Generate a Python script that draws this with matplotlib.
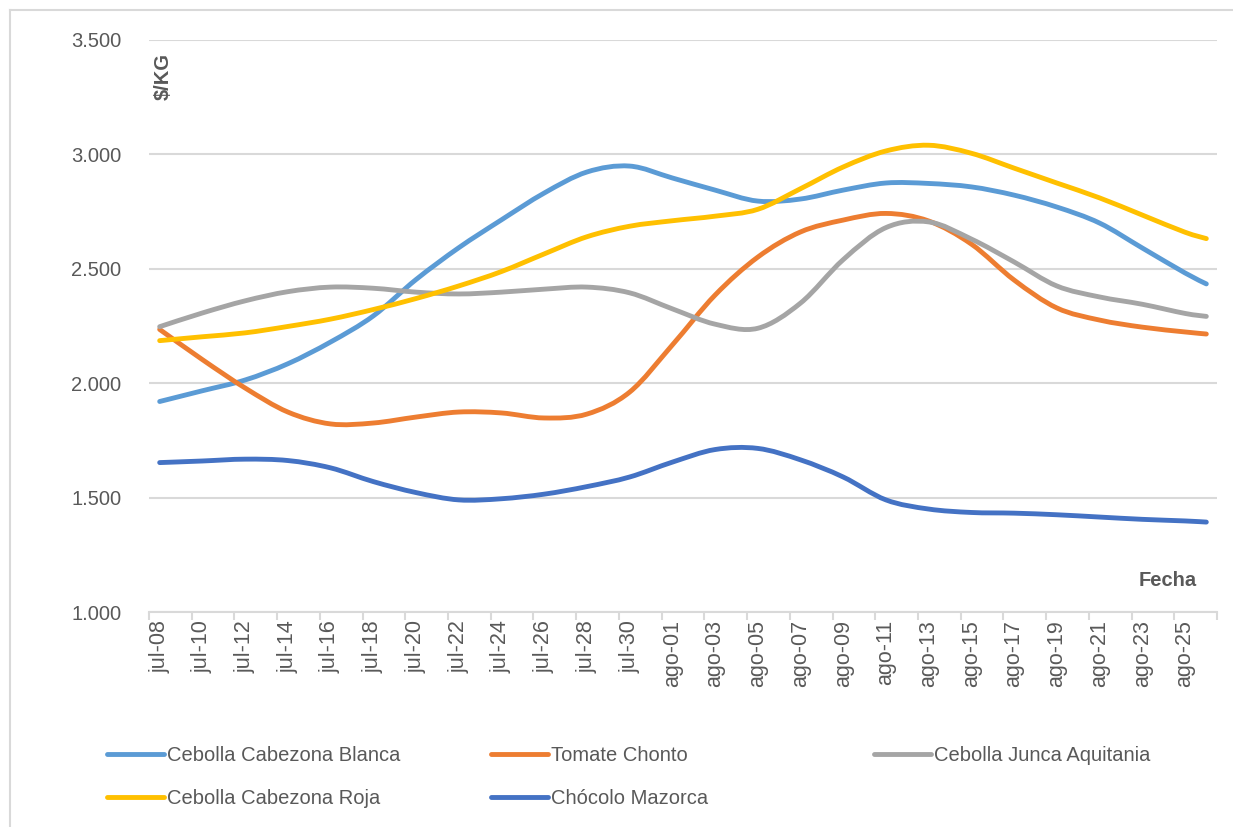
import datetime as dt
import numpy as np
import matplotlib
matplotlib.use("Agg")
import matplotlib.pyplot as plt
from matplotlib.path import Path
from matplotlib.patches import PathPatch
from matplotlib.lines import Line2D

plt.rcParams['font.family'] = ['Liberation Sans', 'DejaVu Sans']

# fechas de los puntos leidos (cada 2 dias + ultimo dia)
fechas = ['jul-08', 'jul-10', 'jul-12', 'jul-14', 'jul-16', 'jul-18', 'jul-20',
          'jul-22', 'jul-24', 'jul-26', 'jul-28', 'jul-30', 'ago-01', 'ago-03',
          'ago-05', 'ago-07', 'ago-09', 'ago-11', 'ago-13', 'ago-15', 'ago-17',
          'ago-19', 'ago-21', 'ago-23', 'ago-25', 'ago-26']
etiquetas = fechas[:-1]

cebolla_blanca = [1920, 1967, 2014, 2085, 2180, 2294, 2453, 2592, 2714, 2831, 2923, 2949, 2897,
                  2844, 2796, 2805, 2844, 2875, 2873, 2858, 2822, 2770, 2700, 2591, 2482, 2434]
tomate_chonto = [2235, 2103, 1979, 1874, 1822, 1826, 1852, 1874, 1870, 1848, 1865, 1961, 2167,
                 2385, 2551, 2661, 2713, 2742, 2709, 2608, 2451, 2329, 2276, 2245, 2224, 2215]
cebolla_junca = [2247, 2307, 2360, 2400, 2420, 2415, 2398, 2390, 2398, 2411, 2420, 2395, 2325,
                 2258, 2240, 2350, 2540, 2680, 2705, 2630, 2530, 2425, 2377, 2345, 2305, 2292]
cebolla_roja = [2186, 2203, 2220, 2248, 2280, 2322, 2370, 2425, 2488, 2565, 2640, 2686, 2710,
                2730, 2760, 2850, 2945, 3015, 3040, 3005, 2940, 2875, 2810, 2735, 2660, 2632]
chocolo = [1653, 1660, 1668, 1662, 1630, 1570, 1522, 1490, 1495, 1515, 1548, 1590, 1655,
           1710, 1715, 1665, 1590, 1490, 1450, 1435, 1432, 1425, 1415, 1405, 1398, 1393]

series = [
    ('Cebolla Cabezona Blanca', cebolla_blanca, '#5B9BD5'),
    ('Tomate Chonto', tomate_chonto, '#ED7D31'),
    ('Cebolla Junca Aquitania', cebolla_junca, '#A5A5A5'),
    ('Cebolla Cabezona Roja', cebolla_roja, '#FFC000'),
    ('Chócolo Mazorca', chocolo, '#4472C4'),
]

meses = {'jul': 7, 'ago': 8}


def a_dia(s):
    m, d = s.split('-')
    return (dt.date(2021, meses[m], int(d)) - dt.date(2021, 7, 8)).days


x = np.array([a_dia(f) for f in fechas], dtype=float)
ndias = a_dia(fechas[-1]) + 1


def curva_suave(xs, ys):
    # linea suavizada estilo Excel (Catmull-Rom como Bezier)
    p = np.column_stack([xs, ys]).astype(float)
    verts = [p[0]]
    codes = [Path.MOVETO]
    n = len(p)
    for i in range(n - 1):
        p0 = p[i - 1] if i > 0 else p[i]
        p3 = p[i + 2] if i + 2 < n else p[i + 1]
        c1 = p[i] + (p[i + 1] - p0) / 6.0
        c2 = p[i + 1] - (p3 - p[i]) / 6.0
        verts += [c1, c2, p[i + 1]]
        codes += [Path.CURVE4] * 3
    return Path(verts, codes)


fig = plt.figure(figsize=(12.33, 8.27), dpi=100)
ax = fig.add_axes([149 / 1233, 215 / 827, 1068 / 1233, 572 / 827])

gris_txt = '#595959'
gris_lin = '#D9D9D9'
grosor = 3.5

for nombre, vals, color in series:
    patch = PathPatch(curva_suave(x, vals), facecolor='none', edgecolor=color,
                      lw=grosor, capstyle='round', joinstyle='round', zorder=3)
    ax.add_patch(patch)

ax.set_xlim(-0.5, ndias - 0.5)
ax.set_ylim(1000, 3500)
ax.set_yticks(np.arange(1000, 3501, 500))
ax.set_yticklabels(['{:,.0f}'.format(v).replace(',', '.') for v in np.arange(1000, 3501, 500)])
ax.yaxis.grid(True, color=gris_lin, lw=1.5)
ax.set_axisbelow(True)

ax.set_xticks(np.arange(-0.5, ndias, 2))
ax.set_xticklabels([])
ax.set_xticks([a_dia(e) for e in etiquetas], minor=True)
ax.set_xticklabels(etiquetas, minor=True, rotation=90)
ax.tick_params(axis='x', which='major', length=6, width=1.5, color=gris_lin)
ax.tick_params(axis='x', which='minor', length=0, pad=6, labelsize=15.5, labelcolor=gris_txt)
ax.tick_params(axis='y', length=0, pad=20, labelsize=14.5, labelcolor=gris_txt)

for s in ['top', 'right', 'left']:
    ax.spines[s].set_visible(False)
ax.spines['bottom'].set_color(gris_lin)
ax.spines['bottom'].set_linewidth(1.5)

negrita = dict(fontsize=14.5, fontweight='bold', color=gris_txt,
               family=['Liberation Sans Narrow', 'Liberation Sans'])
fig.text(163 / 1233, 1 - 77 / 827, '$/KG', rotation=90, ha='center', va='center', **negrita)
fig.text(1168 / 1233, 1 - 581 / 827, 'Fecha', ha='center', va='center', **negrita)

# leyenda en tres columnas
handles = {n: Line2D([], [], color=c, lw=grosor, solid_capstyle='round') for n, _, c in series}
columnas = [(['Cebolla Cabezona Blanca', 'Cebolla Cabezona Roja'], 107),
            (['Tomate Chonto', 'Chócolo Mazorca'], 491),
            (['Cebolla Junca Aquitania'], 874)]
for nombres, x0 in columnas:
    leg = fig.legend([handles[n] for n in nombres], nombres, loc='upper left',
                     bbox_to_anchor=(x0 / 1233, 1 - 746 / 827), frameon=False,
                     fontsize=14.5, labelcolor=gris_txt, handlelength=2.85,
                     handletextpad=0.15, borderpad=0, borderaxespad=0,
                     labelspacing=1.2)

# borde del area del grafico
fig.add_artist(Line2D([10 / 1233, 1], [1 - 10 / 827, 1 - 10 / 827], color=gris_lin, lw=1.5))
fig.add_artist(Line2D([10 / 1233, 10 / 1233], [0, 1 - 10 / 827], color=gris_lin, lw=1.5))

fig.savefig('out.png', dpi=100)
